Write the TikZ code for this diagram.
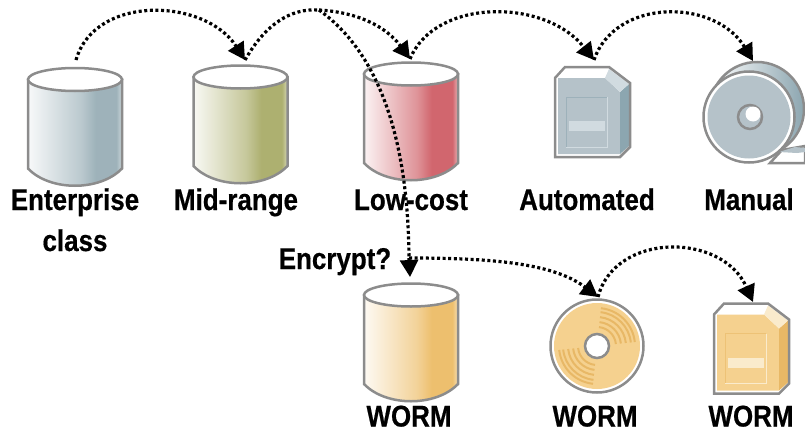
\documentclass[tikz,border=0pt]{standalone}
\usepackage{fontspec}
\setmainfont[FakeStretch=0.865, BoldFeatures={FakeBold=0.5}]{Liberation Sans}
\usetikzlibrary{arrows.meta}
\definecolor{rim}{rgb}{0.55,0.55,0.55}
\definecolor{steel}{rgb}{0.62,0.70,0.73}
\definecolor{olive}{rgb}{0.68,0.69,0.44}
\definecolor{rose}{rgb}{0.82,0.40,0.43}
\definecolor{amber}{rgb}{0.93,0.75,0.43}
\definecolor{greyface}{rgb}{0.71,0.76,0.79}
\definecolor{greyside}{rgb}{0.55,0.65,0.69}
\definecolor{greylight}{rgb}{0.82,0.86,0.88}
\definecolor{amberface}{rgb}{0.96,0.82,0.56}
\definecolor{amberside}{rgb}{0.91,0.72,0.40}
\definecolor{amberlight}{rgb}{0.98,0.92,0.80}
\newcommand{\drumshade}[2]{\pgfdeclarehorizontalshading{#1}{100bp}{color(0bp)=(white); color(25bp)=(#2!8!white); color(53bp)=(#2!70!white); color(61bp)=(#2); color(72bp)=(#2); color(75bp)=(#2!50!white); color(100bp)=(white)}}
\drumshade{drumsteel}{steel}
\drumshade{drumolive}{olive}
\drumshade{drumrose}{rose}
\drumshade{drumamber}{amber}
% drum: x, y of the lid centre, shading
\newcommand{\drum}[3]{
    \draw[rim, line width=2.5pt, shading=#3] (#1-47,#2) -- (#1-47,#2+89) .. controls (#1-25,#2+112) and (#1+25,#2+112) .. (#1+47,#2+89) -- (#1+47,#2) -- cycle;
    \draw[rim, line width=2.5pt, fill=white] (#1,#2) ellipse [x radius=47, y radius=11.5];
}
% cartridge: x, y of the upper left corner, then face, side, light
\newcommand{\cart}[5]{
    \begin{scope}[shift={(#1,#2)}]
    \fill[white] (1,11) -- (11,0) -- (55,0) -- (76,16) -- (66,25) -- cycle;
    \fill[#3] (4,11) -- (51,11) -- (66,25) -- (66,87) -- (4,87) -- cycle;
    \fill[#4] (66,25) -- (75,17) -- (75,79) -- (66,87) -- cycle;
    \fill[#5] (51,11) -- (55,2) -- (75,17) -- (66,25) -- cycle;
    \draw[#4!60!#3, line width=0.8pt] (12,80) |- (53,30);
    \draw[#5, line width=0.8pt] (12,80) -| (53,30);
    \fill[#5] (15,54) rectangle (51,64);
    \draw[rim, line width=2.5pt] (1,11) -- (11,0) -- (55,0) -- (76,16) -- (76,80) -- (66,90) -- (1,90) -- cycle;
    \end{scope}
}
\begin{document}
\begin{tikzpicture}
    [x=1pt, y=1pt, yscale=-1,
    link/.style={line width=3.2pt, dash pattern=on 3pt off 2.6pt, -{Triangle[length=17pt, width=18pt]}},
    linkplain/.style={line width=3.2pt, dash pattern=on 3pt off 2.6pt},
    tag/.style={anchor=base, inner sep=0pt, font=\fontsize{30}{30}\selectfont\bfseries}]
    \useasboundingbox (0,0) rectangle (805,431);
    % upper row
    \drum{75}{79.5}{drumsteel}
    \drum{240.5}{77}{drumolive}
    \drum{411}{74}{drumrose}
    \cart{554}{67}{greyface}{greyside}{greylight}
    % tape reel
    \draw[rim, line width=2.5pt, left color=white, middle color=greylight, right color=greyside] (757,109) circle [radius=47];
    \draw[rim, line width=2.5pt, fill=white] (770,163) -- (805,163) -- (805,146) -- (782,150) -- cycle;
    \fill[greyface] (779,152) -- (795,147) -- (805,148) -- (805,152) -- (797,153) -- cycle;
    \draw[rim, line width=2.5pt, fill=white] (749,117) circle [radius=45.5];
    \fill[greyface] (749,117) circle [radius=41.5];
    \draw[rim, line width=2.5pt, fill=greyface] (750,117) circle [radius=12];
    \fill[white] (753,114) circle [radius=7.5];
    % lower row
    \drum{411}{295}{drumamber}
    % disc
    \draw[rim, line width=2.5pt, fill=white] (597,346) circle [radius=46.5];
    \fill[amberface] (597,346) circle [radius=43];
    \foreach \r in {19,24,29,34,38}
        \draw[amberside, line width=2pt] (597,346) ++(-84:\r) arc [start angle=-84, end angle=-6, radius=\r];
    \foreach \r in {19,24,29,34,38}
        \draw[amberside, line width=2pt] (597,346) ++(96:\r) arc [start angle=96, end angle=174, radius=\r];
    \draw[rim, line width=2.5pt, fill=white] (597,346) circle [radius=12];
    \cart{713}{303.5}{amberface}{amberside}{amberlight}
    % labels
    \node[tag] (enterprise) at (75,210) {Enterprise};
    \node[tag] (class) at (75,251) {class};
    \node[tag] (midrange) at (236,210) {Mid-range};
    \node[tag] (lowcost) at (411,210) {Low-cost};
    \node[tag] (automated) at (587,210) {Automated};
    \node[tag] (manual) at (749,210) {Manual};
    \node[tag] (encrypt) at (335,269) {Encrypt?};
    \node[tag] (wormdrum) at (409,426.5) {WORM};
    \node[tag] (wormdisc) at (595,426.5) {WORM};
    \node[tag] (wormcart) at (751,426.5) {WORM};
    % ends of the connectors
    \coordinate (a) at (76,60);
    \coordinate (b) at (245,60);
    \coordinate (c) at (410,59);
    \coordinate (d) at (594,60);
    \coordinate (e) at (753,61);
    \coordinate (hub) at (319,10);
    \coordinate (split) at (409,258);
    \coordinate (f) at (410,277);
    \coordinate (g) at (598,297);
    \coordinate (h) at (753,302);
    \draw[link] (a) .. controls (95,-6) and (205,-2) .. (b);
    \draw[linkplain] (b) .. controls (265,25) and (290,8) .. (hub);
    \draw[link] (hub) .. controls (355,12) and (385,25) .. (c);
    \draw[link] (c) .. controls (435,-2) and (545,-2) .. (d);
    \draw[link] (d) .. controls (615,-2) and (715,-2) .. (e);
    \draw[linkplain] (hub) .. controls (375,50) and (408,130) .. (split);
    \draw[link] (split) -- (f);
    \draw[link] (split) .. controls (485,258) and (552,262) .. (g);
    \draw[link] (g) .. controls (615,232) and (722,232) .. (h);
\end{tikzpicture}
\end{document}
